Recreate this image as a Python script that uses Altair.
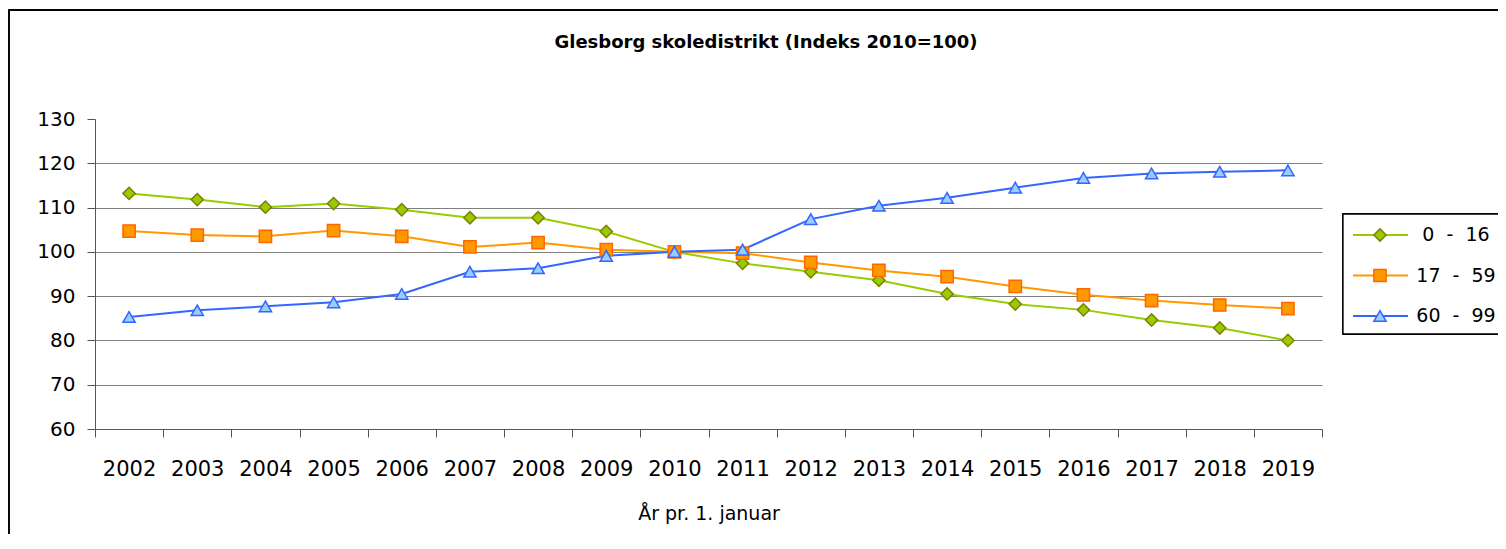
import altair as alt
import pandas as pd

years = ["2002", "2003", "2004", "2005", "2006", "2007", "2008", "2009", "2010",
         "2011", "2012", "2013", "2014", "2015", "2016", "2017", "2018", "2019"]
series = ["0 - 16", "17 - 59", "60 - 99"]
v_0_16 = [113.2, 111.8, 110.1, 110.9, 109.5, 107.7, 107.7, 104.6, 100.0,
          97.4, 95.5, 93.6, 90.5, 88.2, 86.9, 84.6, 82.8, 80.0]
v_17_59 = [104.7, 103.8, 103.5, 104.8, 103.5, 101.1, 102.1, 100.5, 100.0,
           99.7, 97.6, 95.8, 94.4, 92.2, 90.3, 89.0, 88.0, 87.2]
v_60_99 = [85.3, 86.8, 87.7, 88.6, 90.5, 95.5, 96.3, 99.1, 100.0,
           100.5, 107.4, 110.4, 112.2, 114.5, 116.7, 117.7, 118.1, 118.4]
y_ticks = [60, 70, 80, 90, 100, 110, 120, 130]
title_text = ["Glesborg skoledistrikt (Indeks 2010=100)"]

line_colors = ["#99CC00", "#FF9900", "#3366FF"]
fill_colors = ["#99CC00", "#FF9900", "#99CCFF"]
stroke_colors = ["#808000", "#FF6600", "#3366FF"]
shapes = ["diamond", "square", "triangle-up"]

rows = []
for name, vals in zip(series, [v_0_16, v_17_59, v_60_99]):
    for yr, v in zip(years, vals):
        rows.append({"year": yr, "value": v, "series": name})
df = pd.DataFrame(rows)

legend_df = pd.DataFrame({"series": series,
                          "label": [s.replace(" ", "\u00a0\u00a0") for s in series]})
title_df = pd.DataFrame({"t": title_text})

FONT = "DejaVu Sans"
W, H = 1227, 310

color_scale = alt.Scale(domain=series, range=line_colors)
fill_scale = alt.Scale(domain=series, range=fill_colors)
stroke_scale = alt.Scale(domain=series, range=stroke_colors)
shape_scale = alt.Scale(domain=series, range=shapes)

x_enc = alt.X("year:O", sort=years, bandPosition=0.5,
              scale=alt.Scale(type="band", paddingInner=0, paddingOuter=0),
              axis=alt.Axis(title="År pr. 1. januar", labelAngle=0, tickBand="extent",
                            tickSize=8, tickColor="#555555", domainColor="#555555",
                            labelFontSize=21, labelPadding=21, titlePadding=25,
                            titleFontSize=19, titleFontWeight="normal", grid=False))
y_enc = alt.Y("value:Q", scale=alt.Scale(domain=[60, 130], nice=False, zero=False),
              axis=alt.Axis(title=None, values=y_ticks, tickSize=8, tickColor="#555555",
                            domainColor="#555555", labelFontSize=20, labelPadding=12,
                            grid=True, gridColor="#808080",
                            gridOpacity={"condition": {"test": "datum.value === 130 || datum.value === 60",
                                                       "value": 0}, "value": 1}))

base = alt.Chart(df)
lines = base.mark_line(strokeWidth=2).encode(
    x=x_enc, y=y_enc,
    color=alt.Color("series:N", scale=color_scale, legend=None),
    detail="series:N")
points = base.mark_point(filled=True, size=150, strokeWidth=1.5, opacity=1).encode(
    x=x_enc, y=y_enc,
    fill=alt.Fill("series:N", scale=fill_scale, legend=None),
    stroke=alt.Stroke("series:N", scale=stroke_scale, legend=None),
    shape=alt.Shape("series:N", scale=shape_scale, legend=None))
main = alt.layer(lines, points)

# decorations: outer frame, title and legend
frame = alt.Chart(legend_df).mark_rect(fill=None, stroke="black", strokeWidth=1.3).encode(
    x=alt.value(-86), x2=alt.value(1600), y=alt.value(-109), y2=alt.value(600))
title = alt.Chart(title_df).mark_text(font=FONT, fontSize=18, fontWeight="bold",
                                      align="center", baseline="middle", color="black").encode(
    x=alt.value(671), y=alt.value(-76), text="t:N")

leg_y = alt.Y("series:N", scale=alt.Scale(type="point", domain=series, range=[116, 197], padding=0),
              axis=None)
leg_box = alt.Chart(legend_df).mark_rect(fill="white", stroke="black", strokeWidth=1.3).encode(
    x=alt.value(1248), x2=alt.value(1600), y=alt.value(95), y2=alt.value(215))
leg_lines = alt.Chart(legend_df).mark_rule(strokeWidth=2).encode(
    x=alt.value(1258), x2=alt.value(1313), y=leg_y,
    color=alt.Color("series:N", scale=color_scale, legend=None))
leg_pts = alt.Chart(legend_df).mark_point(filled=True, size=150, strokeWidth=1.5, opacity=1).encode(
    x=alt.value(1285), y=leg_y,
    fill=alt.Fill("series:N", scale=fill_scale, legend=None),
    stroke=alt.Stroke("series:N", scale=stroke_scale, legend=None),
    shape=alt.Shape("series:N", scale=shape_scale, legend=None))
leg_text = alt.Chart(legend_df).mark_text(font=FONT, fontSize=19, align="center",
                                           baseline="middle", color="black").encode(
    x=alt.value(1361), y=leg_y, text="label:N")
legend = alt.layer(leg_box, leg_lines, leg_pts, leg_text)

chart = alt.layer(frame, title, main, legend).resolve_scale(y="independent").properties(
    width=W, height=H,
    autosize=alt.AutoSizeParams(type="none"),
    padding={"left": 87, "top": 111, "right": 176, "bottom": 105},
).configure_view(stroke=None).configure_axis(
    labelFont=FONT, labelColor="black", titleFont=FONT, titleColor="black"
)

chart.save("out.html", embed_options={"renderer": "svg", "actions": False})
